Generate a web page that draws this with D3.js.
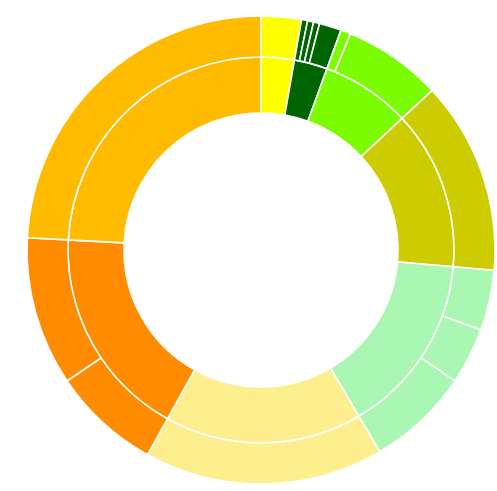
<!DOCTYPE html>
<html>
<head>
<meta charset="utf-8">
<script src="https://cdn.jsdelivr.net/npm/d3@7"></script>
<style>
html,body{margin:0;padding:0;background:#fff;overflow:hidden;}
</style>
</head>
<body>
<svg id="chart" width="497" height="491"></svg>
<script>
// Parent categories (clockwise from 12 o'clock)
const categories = ["Yellow", "Dark green", "Bright green", "Olive", "Light green", "Pale yellow", "Orange", "Amber"];
const colors = ["#ffff00", "#006400", "#7cfc00", "#cccc00", "#aaf7b4", "#fdee8e", "#ff8c00", "#ffbb00"];
// Child values per category (outer ring)
const childValues = [
  [10],
  [1.5, 1.5, 1.5, 5.5],
  [2.5, 24.5],
  [48],
  [15, 14, 25.5],
  [59.5],
  [27, 37],
  [87]
];

const cx = 261, cy = 250;
const svg = d3.select("#chart");
const g = svg.append("g").attr("transform", `translate(${cx},${cy})`);

const data = {
  name: "root",
  children: categories.map((c, i) => ({
    name: c, color: colors[i],
    children: childValues[i].map((v, j) => ({name: c + " " + (j + 1), value: v}))
  }))
};

const root = d3.hierarchy(data).sum(d => d.value || 0);
d3.partition().size([2 * Math.PI, 3])(root);

const r = d3.scaleLinear().domain([1, 2, 3]).range([137, 193, 234]);

const arc = d3.arc()
  .startAngle(d => d.x0)
  .endAngle(d => d.x1)
  .innerRadius(d => r(d.y0))
  .outerRadius(d => r(d.y1));

g.selectAll("path")
  .data(root.descendants().filter(d => d.depth > 0))
  .join("path")
  .attr("d", arc)
  .attr("fill", d => d.depth === 1 ? d.data.color : d.parent.data.color)
  .attr("stroke", "#ffffff")
  .attr("stroke-width", 1.6);
</script>
</body>
</html>
